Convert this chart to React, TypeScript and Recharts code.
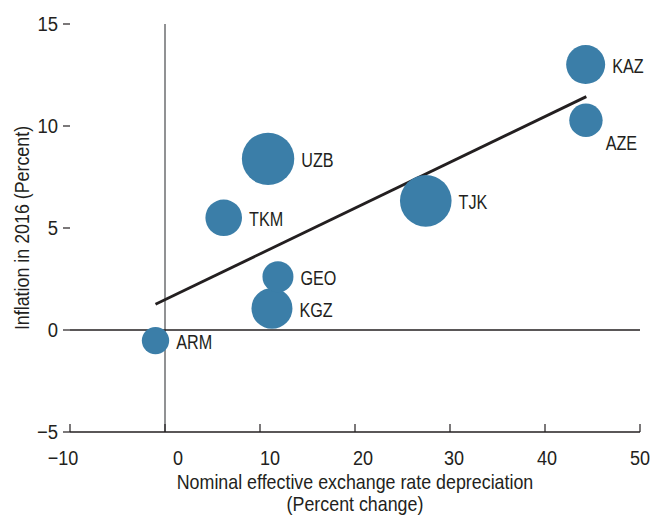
import { ScatterChart, Scatter, XAxis, YAxis, ZAxis, ReferenceLine, Label } from "recharts";

document.body.style.margin = "0";

const FONT = "'Liberation Sans', Arial, sans-serif";
const INK = "#231f20";
const BUBBLE = "#3b7ea8";

// bubbles
const countries = ["ARM", "TKM", "UZB", "KGZ", "GEO", "TJK", "KAZ", "AZE"];
const depreciation = [-1.0, 6.18, 10.85, 11.26, 11.89, 27.45, 44.28, 44.31];
const inflation = [-0.52, 5.5, 8.39, 1.06, 2.61, 6.33, 13.01, 10.28];
const weight = [27.3, 48.8, 100, 61.2, 35, 97, 55.4, 40.6];

// fitted line end points
const trendX = [-1.0, 44.35];
const trendY = [1.26, 11.44];

const xTicks = [-10, 0, 10, 20, 30, 40, 50];
const yTicks = [-5, 0, 5, 10, 15];

// small horizontal nudges of the x tick labels, as in the original
const xLabelNudge: Record<number, number> = { "-10": -7, 0: 13, 10: 10, 20: 8, 30: 4, 40: 2, 50: 0 };

const data = countries.map((name, i) => ({
  name,
  x: depreciation[i],
  y: inflation[i],
  z: weight[i],
}));

const fmt = (v: number) => (v < 0 ? `\u2212${Math.abs(v)}` : `${v}`);

// condensed-looking text: Liberation Sans squeezed horizontally
const SText = (p: any) => {
  const { x, y, sx, anchor = "start", rotate = 0, baseline, children } = p;
  const rot = rotate ? ` rotate(${rotate})` : "";
  return (
    <text
      transform={`translate(${x} ${y})${rot} scale(${sx} 1)`}
      textAnchor={anchor}
      dominantBaseline={baseline}
      fontFamily={FONT}
      fontSize={21}
      fill={INK}
    >
      {children}
    </text>
  );
};

const Bubble = (props: any) => {
  const { cx, cy, width, payload } = props;
  const r = width / 2;
  const below = payload.name === "AZE";
  return (
    <g>
      <circle cx={cx} cy={cy} r={r} fill={BUBBLE} />
      <SText
        x={below ? cx + r + 3 : cx + r + 7}
        y={below ? cy + r + 5.5 : cy + 1}
        sx={0.77}
        baseline="central"
      >
        {payload.name}
      </SText>
    </g>
  );
};

const XTick = (props: any) => {
  const { x, y, payload } = props;
  return (
    <g>
      <line x1={x} x2={x} y1={y} y2={y - 8} stroke={INK} strokeWidth={1.2} />
      <SText x={x + (xLabelNudge[payload.value] ?? 0)} y={y + 33} sx={0.86} anchor="middle">
        {fmt(payload.value)}
      </SText>
    </g>
  );
};

const YTick = (props: any) => {
  const { x, y, payload } = props;
  return (
    <SText x={x} y={y} sx={0.88} anchor="end" baseline="central">
      {fmt(payload.value)}
    </SText>
  );
};

const XTitle = (props: any) => {
  const { viewBox } = props;
  const cx = viewBox.x + viewBox.width / 2;
  return (
    <g>
      <SText x={cx} y={489} sx={0.85} anchor="middle">
        Nominal effective exchange rate depreciation
      </SText>
      <SText x={cx} y={511} sx={0.85} anchor="middle">
        (Percent change)
      </SText>
    </g>
  );
};

const YTitle = (props: any) => {
  const { viewBox } = props;
  const cy = viewBox.y + viewBox.height / 2;
  return (
    <SText x={29} y={cy} sx={0.85} rotate={-90} anchor="middle">
      Inflation in 2016 (Percent)
    </SText>
  );
};

export default function App() {
  return (
    <ScatterChart width={652} height={516} margin={{ top: 24, right: 12, bottom: 0, left: 0 }}>
      <XAxis
        type="number"
        dataKey="x"
        domain={[-10, 50]}
        ticks={xTicks}
        interval={0}
        tickLine={false}
        tickSize={0}
        tickMargin={0}
        tick={<XTick />}
        axisLine={{ stroke: INK, strokeWidth: 1.5 }}
        height={84}
      >
        <Label content={<XTitle />} />
      </XAxis>
      <YAxis
        yAxisId="left"
        type="number"
        dataKey="y"
        domain={[-5, 15]}
        ticks={yTicks}
        interval={0}
        axisLine={false}
        tickLine={{ stroke: INK, strokeWidth: 1.2 }}
        tickSize={7}
        tickMargin={5}
        tick={<YTick />}
        width={70}
      >
        <Label content={<YTitle />} />
      </YAxis>
      <YAxis
        yAxisId="right"
        orientation="right"
        type="number"
        domain={[-5, 15]}
        ticks={yTicks}
        interval={0}
        axisLine={false}
        tickLine={{ stroke: INK, strokeWidth: 1.2 }}
        tickSize={6}
        mirror
        tick={() => <g />}
        width={6}
      />
      <ZAxis type="number" dataKey="z" domain={[0, 100]} range={[0, Math.PI * 26.2 * 26.2]} />
      <ReferenceLine yAxisId="left" x={0} stroke="#6d6e71" strokeWidth={1.5} />
      <ReferenceLine yAxisId="left" y={0} stroke={INK} strokeWidth={1.5} />
      <ReferenceLine
        yAxisId="left"
        segment={[
          { x: trendX[0], y: trendY[0] },
          { x: trendX[1], y: trendY[1] },
        ]}
        stroke={INK}
        strokeWidth={2.8}
      />
      <Scatter yAxisId="left" data={data} shape={<Bubble />} isAnimationActive={false} />
    </ScatterChart>
  );
}
